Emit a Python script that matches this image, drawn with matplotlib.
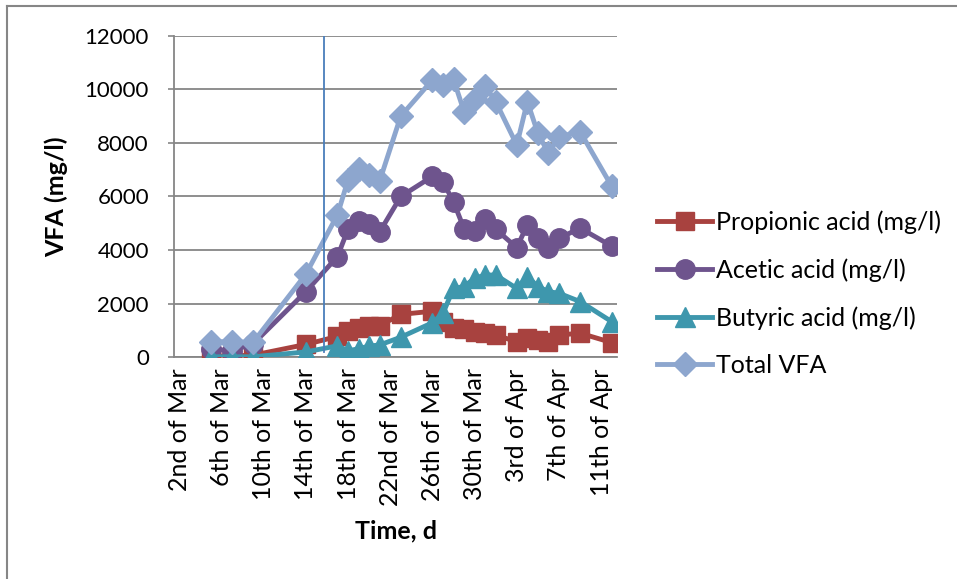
import numpy as np
import matplotlib
matplotlib.use("Agg")
import matplotlib.pyplot as plt
from matplotlib.lines import Line2D

plt.rcParams['font.family'] = ['Lato', 'DejaVu Sans']

# days counted from 2nd of Mar
days = [3, 5, 7, 12, 15, 16, 17, 18, 19, 21, 24, 25, 26, 27, 28, 29, 30,
        32, 33, 34, 35, 36, 38, 41]

propionic = [50, 50, 80, 480, 780, 980, 1100, 1150, 1180, 1600, 1720, 1310,
             1080, 1040, 960, 900, 830, 580, 710, 650, 580, 830, 900, 550]
acetic = [300, 250, 500, 2450, 3760, 4780, 5100, 4960, 4680, 6000, 6750, 6550,
          5800, 4800, 4730, 5150, 4780, 4090, 4950, 4440, 4070, 4440, 4820, 4150]
butyric = [20, 20, 20, 200, 430, 240, 320, 420, 460, 750, 1290, 1640,
           2570, 2640, 2950, 3070, 3070, 2570, 3010, 2640, 2450, 2390, 2080, 1330]
total = [580, 580, 560, 3100, 5320, 6620, 7030, 6800, 6580, 9000, 10350, 10160,
         10370, 9170, 9640, 10120, 9540, 7920, 9540, 8360, 7610, 8230, 8420, 6380]

tick_days = [0, 4, 8, 12, 16, 20, 24, 28, 32, 36, 40]
tick_labels = ["2nd of Mar", "6th of Mar", "10th of Mar", "14th of Mar", "18th of Mar",
               "22nd of Mar", "26th of Mar", "30th of Mar", "3rd of Apr", "7th of Apr",
               "11th of Apr"]

fig = plt.figure(figsize=(9.57, 5.79), dpi=100)
ax = fig.add_axes([174/957, 1 - 357.3/579, (617-174)/957, (357.3-35.7)/579])

ax.plot(days, propionic, color='#A8423F', lw=3.5, marker='s', ms=12.5,
        label='Propionic acid (mg/l)', zorder=3)
ax.plot(days, acetic, color='#6E548D', lw=3.5, marker='o', ms=14,
        label='Acetic acid (mg/l)', zorder=3)
ax.plot(days, butyric, color='#3E97AD', lw=3.5, marker='^', ms=14,
        label='Butyric acid (mg/l)', zorder=3)
ax.plot(days, total, color='#8DA6CE', lw=3.5, marker='D', ms=12,
        label='Total VFA', zorder=3)

ax.axvline(13.7, ymin=0.015, ymax=1, color='#4A7EBB', lw=1.3, zorder=4)

ax.set_xlim(-0.5, 41.5)
ax.set_ylim(0, 12000)
ax.set_yticks(np.arange(0, 12001, 2000))
ax.set_xticks(tick_days)
ax.set_xticklabels(tick_labels, rotation=90, fontsize=18)
ax.tick_params(axis='y', labelsize=16, colors='#868686', labelcolor='black',
               length=4, width=1.2, pad=14)
ax.tick_params(axis='x', length=0, pad=8)
ax.grid(axis='y', color='#868686', lw=1.3)
ax.set_axisbelow(True)
for s in ['top', 'right']:
    ax.spines[s].set_visible(False)
for s in ['left', 'bottom']:
    ax.spines[s].set_color('#868686')
    ax.spines[s].set_linewidth(1.3)

ax.set_ylabel("VFA (mg/l)", fontsize=18, fontweight='bold', labelpad=12)
ax.set_xlabel("Time, d", fontsize=18, fontweight='bold', labelpad=10)

ax.legend(loc='center left', bbox_to_anchor=(657/957, 1 - 293.5/579),
          bbox_transform=fig.transFigure, frameon=False, fontsize=18,
          handlelength=2.2, handletextpad=0.16, labelspacing=0.97, borderpad=0,
          borderaxespad=0)

# chart border (only top and left edges visible)
fig.add_artist(Line2D([7.5/957, 1], [1 - 6/579, 1 - 6/579], color='#868686', lw=1.5))
fig.add_artist(Line2D([7.5/957, 7.5/957], [0, 1 - 6/579], color='#868686', lw=1.5))

fig.savefig("out.png", dpi=100)
